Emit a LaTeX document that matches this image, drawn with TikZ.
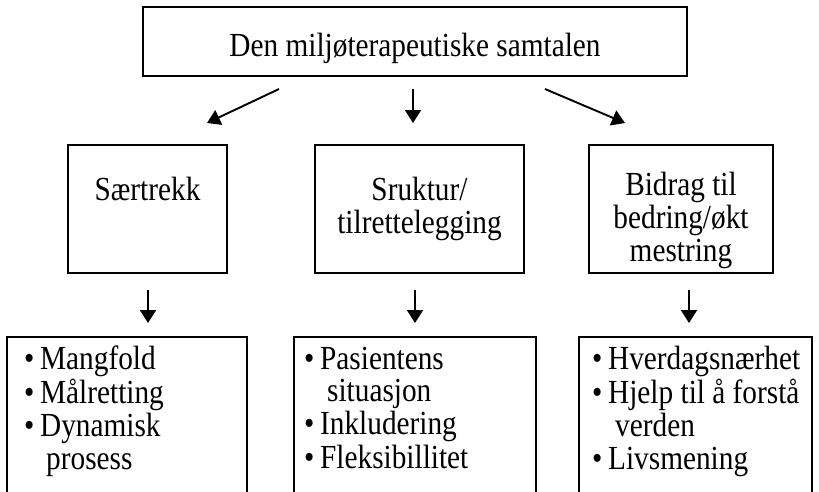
\documentclass[tikz,border=0pt]{standalone}
\usepackage{fontspec}
\usepackage{graphicx}
\setmainfont{Liberation Serif}
\usetikzlibrary{arrows.meta}
\newcommand{\bul}{\makebox[16pt][l]{•}}
\newcommand{\vst}[1]{\scalebox{1}[1.15]{#1}}
\begin{document}
\begin{tikzpicture}[x=1pt,y=-1pt,
  box/.style={draw, line width=1.6pt, inner sep=0pt},
  lbl/.style={font=\fontsize{29.3}{29}\selectfont, inner sep=0pt, anchor=base},
  lst/.style={font=\fontsize{29.3}{28.5}\selectfont, inner sep=0pt, anchor=base west},
  arr/.style={line width=1.9pt, -{Triangle[length=13pt,width=16pt]}}
]
\clip (0,0) rectangle (819,491);
\fill[white] (0,0) rectangle (819,491);
% top
\node[box, minimum width=544pt, minimum height=69pt] (top) at (415,41.5) {};
\node[lbl] (toptxt) at (415,56) {\vst{Den miljøterapeutiske samtalen}};
% middle boxes
\node[box, minimum width=159pt, minimum height=128pt] (m1) at (147.5,209) {};
\node[box, minimum width=209pt, minimum height=128pt] (m2) at (419.5,209) {};
\node[box, minimum width=184pt, minimum height=128pt] (m3) at (681,209) {};
\node[lbl] (m1txt) at (147.5,200) {\vst{Særtrekk}};
\node[lbl] (m2txt) at (419.5,200) {\vst{\begin{tabular}[t]{@{}c@{}}Sruktur/\\tilrettelegging\end{tabular}}};
\node[lbl] (m3txt) at (681,195) {\vst{\begin{tabular}[t]{@{}c@{}}Bidrag til\\bedring/økt\\mestring\end{tabular}}};
% bottom boxes (cut off at the lower edge)
\node[box, minimum width=240pt, minimum height=163pt] (b1) at (127,418.5) {};
\node[box, minimum width=242pt, minimum height=163pt] (b2) at (415,418.5) {};
\node[box, minimum width=233pt, minimum height=163pt] (b3) at (695.5,418.5) {};
\node[lst] (b1txt) at (24,369) {\vst{\begin{tabular}[t]{@{}l@{}l@{}}\bul&Mangfold\\\bul&Målretting\\\bul&Dynamisk\\&\hspace{6pt}prosess\end{tabular}}};
\node[lst] (b2txt) at (304,369) {\vst{\begin{tabular}[t]{@{}l@{}l@{}}\bul&Pasientens\\&\hspace{7pt}situasjon\\\bul&Inkludering\\\bul&Fleksibillitet\end{tabular}}};
\node[lst] (b3txt) at (592,369) {\vst{\begin{tabular}[t]{@{}l@{}l@{}}\bul&Hverdagsnærhet\\\bul&Hjelp til å forstå\\&\hspace{7pt}verden\\\bul&Livsmening\end{tabular}}};
% arrows
\coordinate (t1s) at (279,89); \coordinate (t1e) at (207,123);
\coordinate (t2s) at (413,89); \coordinate (t2e) at (413,123);
\coordinate (t3s) at (545,89); \coordinate (t3e) at (625,123);
\coordinate (u1s) at (148,290); \coordinate (u1e) at (148,323);
\coordinate (u2s) at (415,290); \coordinate (u2e) at (415,323);
\coordinate (u3s) at (689,290); \coordinate (u3e) at (689,323);
\draw[arr] (t1s) -- (t1e);
\draw[arr] (t2s) -- (t2e);
\draw[arr] (t3s) -- (t3e);
\draw[arr] (u1s) -- (u1e);
\draw[arr] (u2s) -- (u2e);
\draw[arr] (u3s) -- (u3e);
\end{tikzpicture}
\end{document}
